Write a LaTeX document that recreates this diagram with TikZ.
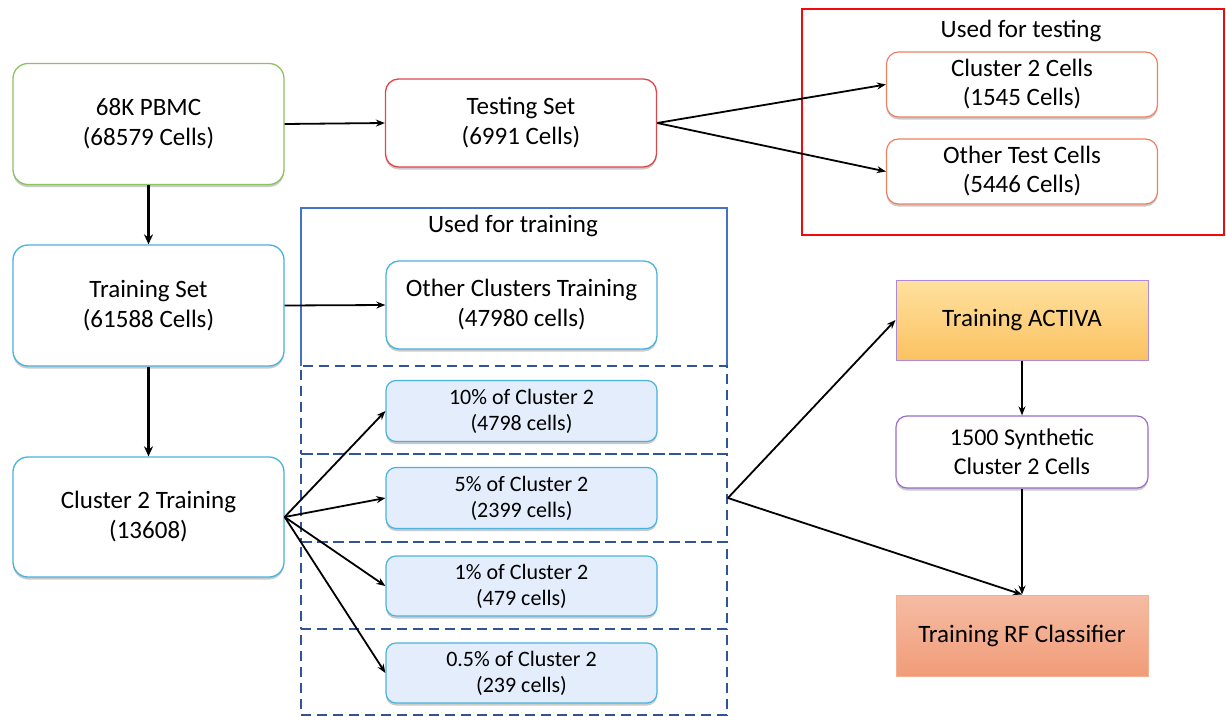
\documentclass[tikz,border=0pt]{standalone}
\usepackage{fontspec}
\setmainfont{Carlito}
\usetikzlibrary{arrows.meta,shadows}
\definecolor{cgreen}{HTML}{8DC35F}
\definecolor{cred}{HTML}{E0474C}
\definecolor{pured}{HTML}{F00A0A}
\definecolor{corange}{HTML}{EE8060}
\definecolor{ccyan}{HTML}{4BB2DE}
\definecolor{cpurple}{HTML}{9A6BCB}
\definecolor{cblue}{HTML}{4472C4}
\definecolor{cdblue}{HTML}{2F5597}
\definecolor{lblue}{HTML}{E3EDFB}
\definecolor{actA}{HTML}{FFE19F}
\definecolor{actB}{HTML}{FBC262}
\definecolor{rfA}{HTML}{F5BCA4}
\definecolor{rfB}{HTML}{F19C78}
\tikzset{
  shad/.style={drop shadow={shadow xshift=0pt,shadow yshift=-2.5pt,opacity=0.35,fill=black!60}},
  bigbox/.style={shad,draw,fill=white,line width=1.3pt,rounded corners=15pt,minimum width=271pt,minimum height=121pt,inner sep=0pt,align=center,font=\fontsize{25}{30}\selectfont},
  midbox/.style={shad,draw,fill=white,line width=1.3pt,rounded corners=13pt,minimum width=271pt,minimum height=88pt,inner sep=0pt,align=center,font=\fontsize{25}{30}\selectfont},
  testbox/.style={shad,draw=corange,fill=white,line width=1.2pt,rounded corners=12pt,minimum width=271pt,minimum height=65pt,inner sep=0pt,align=center,font=\fontsize{25}{29}\selectfont},
  pctbox/.style={shad,draw=ccyan,fill=lblue,line width=1.2pt,rounded corners=10pt,minimum width=271pt,minimum height=61pt,inner sep=0pt,align=center,font=\fontsize{22}{26}\selectfont},
  rbox/.style={line width=1pt,minimum width=252pt,minimum height=80pt,inner sep=0pt,align=center,font=\fontsize{25}{30}\selectfont},
  dbox/.style={draw=cdblue,dashed,dash pattern=on 10pt off 6pt,line width=1.8pt,minimum width=426pt,inner sep=0pt},
  arr/.style={-{Stealth[length=9pt,width=7pt]},line width=1.8pt},
  tarr/.style={-{Stealth[length=10pt,width=9pt]},line width=3pt},
  lab/.style={font=\fontsize{25}{28}\selectfont,inner sep=0pt}
}
\begin{document}
\begin{tikzpicture}[x=1pt,y=-1pt]
\useasboundingbox (0,0) rectangle (1226,717);
% containers
\draw[pured,line width=2.2pt] (802,9) rectangle (1224,235);
\node[lab] (ltest) at (1021,31) {Used for testing};
\draw[cblue,line width=1.8pt] (301,366) -- (301,208) -- (727,208) -- (727,366);
\node[lab] (ltrain) at (513,226) {Used for training};
\node[dbox,minimum height=88pt] (d1) at (514,410) {};
\node[dbox,minimum height=88pt] (d2) at (514,498) {};
\node[dbox,minimum height=87pt] (d3) at (514,585.5) {};
\node[dbox,minimum height=86pt] (d4) at (514,672) {};
% main nodes
\node[bigbox,draw=cgreen] (pbmc) at (148.5,124) {68K PBMC\\(68579 Cells)};
\node[bigbox,draw=ccyan] (train) at (148.5,305.5) {Training Set\\(61588 Cells)};
\node[bigbox,draw=ccyan,minimum height=120pt] (c2train) at (148.5,517) {Cluster 2 Training\\(13608)};
\node[midbox,draw=cred] (testset) at (521,123) {Testing Set\\(6991 Cells)};
\node[testbox] (c2cells) at (1022,84.5) {Cluster 2 Cells\\(1545 Cells)};
\node[testbox] (other) at (1022,171.5) {Other Test Cells\\(5446 Cells)};
\node[midbox,draw=ccyan] (otherc) at (521.5,305) {Other Clusters Training\\(47980 cells)};
\node[pctbox] (p10) at (521.5,411) {10\% of Cluster 2\\(4798 cells)};
\node[pctbox] (p5) at (521.5,498) {5\% of Cluster 2\\(2399 cells)};
\node[pctbox,minimum height=60pt] (p1) at (521.5,586) {1\% of Cluster 2\\(479 cells)};
\node[pctbox,minimum height=60pt] (p05) at (521.5,673) {0.5\% of Cluster 2\\(239 cells)};
\node[rbox,draw=cpurple!80,top color=actA,bottom color=actB] (activa) at (1022,320) {Training ACTIVA};
\node[shad,draw=cpurple,fill=white,line width=1.2pt,rounded corners=11pt,minimum width=252pt,minimum height=72pt,inner sep=0pt,align=center,font=\fontsize{24}{29}\selectfont] (synth) at (1022,452) {1500 Synthetic\\Cluster 2 Cells};
\node[rbox,draw=rfB!80,top color=rfA,bottom color=rfB,minimum height=81pt] (rf) at (1022,635.5) {Training RF Classifier};
% connectors
\draw[arr] (pbmc.east) -- (testset.west);
\draw[tarr] (pbmc.south) -- (train.north);
\draw[tarr] (train.south) -- (c2train.north);
\draw[arr] (train.east) -- (otherc.west);
\draw[arr] (testset.east) -- (c2cells.west);
\draw[arr] (testset.east) -- (other.west);
\draw[arr] (c2train.east) -- (p10.west);
\draw[arr] (c2train.east) -- (p5.west);
\draw[arr] (c2train.east) -- (p1.west);
\draw[arr] (c2train.east) -- (p05.west);
\draw[arr] (d2.east) -- (activa.west);
\draw[arr] (d2.east) -- (rf.north);
\draw[arr] (activa.south) -- (synth.north);
\draw[arr] (synth.south) -- (rf.north);
\end{tikzpicture}
\end{document}
